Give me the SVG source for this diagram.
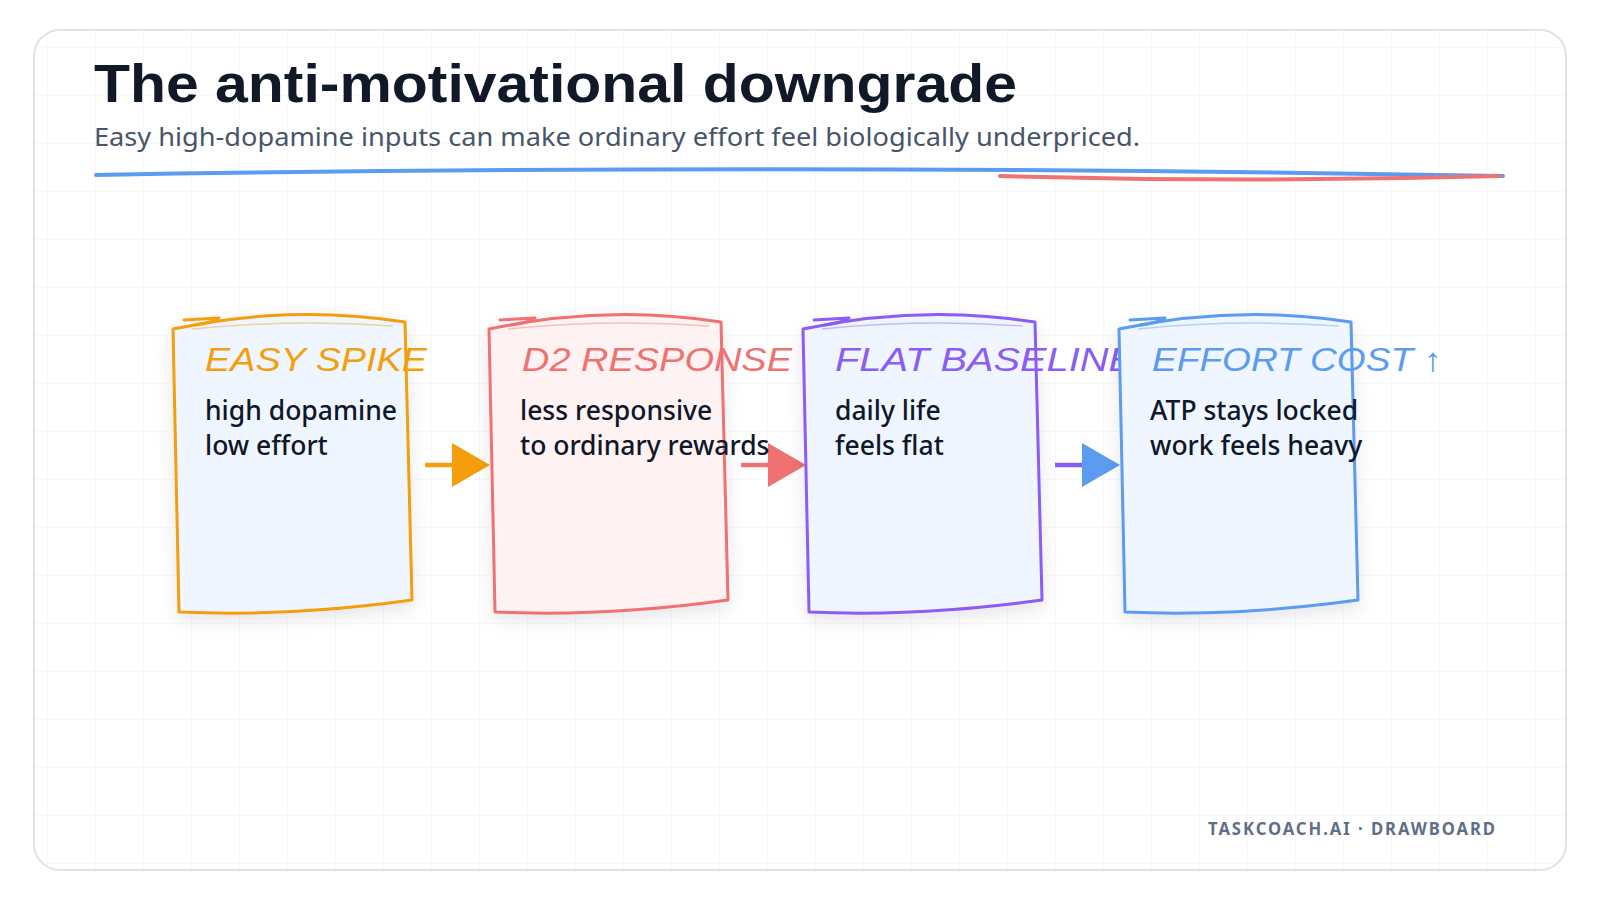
<svg xmlns="http://www.w3.org/2000/svg" width="1600" height="900" viewBox="0 0 1600 900">
<defs>
<style>
.title{font-family:"Liberation Sans",Arial,sans-serif;font-weight:700;font-size:54px;fill:#111827}
.sub{font-family:"Noto Sans","Open Sans",sans-serif;font-size:26px;fill:#475569}
.ctitle{font-family:"Liberation Sans",Arial,sans-serif;font-style:italic;font-size:33px}
.body{font-family:"Noto Sans","Open Sans",sans-serif;font-size:26.5px;font-weight:500;fill:#0f172a}
.foot{font-family:"Noto Sans","Open Sans",sans-serif;font-weight:700;font-size:17px;fill:#5f6f86;letter-spacing:2px}
.card{stroke-width:3;stroke-linejoin:round}
.inner{fill:none;stroke-width:1.5;opacity:0.4}
.tick{fill:none;stroke-width:3;stroke-linecap:round;stroke-linejoin:round}
</style>
<pattern id="grid" x="0" y="0" width="48" height="48" patternUnits="userSpaceOnUse">
<path d="M48,0 V48 M0,48 H48" fill="none" stroke="#eef1f5" stroke-width="1"/>
</pattern>
<clipPath id="cardclip"><rect x="34" y="30" width="1532" height="840" rx="26"/></clipPath>
<filter id="shadow" x="-20%" y="-20%" width="140%" height="140%">
<feDropShadow dx="0" dy="6" stdDeviation="9" flood-color="#0f172a" flood-opacity="0.10"/>
</filter>
<path id="cardshape" d="M173,329 Q290,304 405,322 L412,600 Q290,617 179,612 Z"/>
<path id="innerline" d="M192,329 Q292,319 393,326"/>
<path id="tickline" d="M184,320 L219,318 Q212,323 195,325"/>
</defs>

<rect x="34" y="30" width="1532" height="840" rx="26" fill="#ffffff"/>
<rect x="34" y="30" width="1532" height="840" fill="url(#grid)" clip-path="url(#cardclip)"/>
<rect x="34" y="30" width="1532" height="840" rx="26" fill="none" stroke="#dde1e8" stroke-width="2"/>

<g id="header">
<text class="title" x="94" y="102" textLength="923" lengthAdjust="spacingAndGlyphs">The anti-motivational downgrade</text>
<text class="sub" x="94" y="146" textLength="1046" lengthAdjust="spacingAndGlyphs">Easy high-dopamine inputs can make ordinary effort feel biologically underpriced.</text>
<path d="M96,175 Q800,163 1503,176" fill="none" stroke="#5b9bf0" stroke-width="4" stroke-linecap="round"/>
<path d="M1000,176 Q1250,183 1500,176" fill="none" stroke="#f07373" stroke-width="4" stroke-linecap="round"/>
</g>

<g id="connectors">
<g id="arrow1">
<line x1="425" y1="465" x2="454" y2="465" stroke="#f59e0b" stroke-width="4.5"/>
<polygon points="452,443 490,465 452,487" fill="#f59e0b"/>
</g>
<g id="arrow2">
<line x1="741" y1="465" x2="770" y2="465" stroke="#f07171" stroke-width="4.5"/>
<polygon points="768,443 806,465 768,487" fill="#f07171"/>
</g>
<g id="arrow3">
<line x1="1055" y1="465" x2="1084" y2="465" stroke="#8b5cf6" stroke-width="4.5"/>
<polygon points="1082,443 1120,465 1082,487" fill="#5b9bf0"/>
</g>
</g>

<g id="node-easy-spike">
<use href="#cardshape" class="card" fill="#eff6ff" stroke="#f59e0b" filter="url(#shadow)"/>
<use href="#innerline" class="inner" stroke="#f59e0b"/>
<use href="#tickline" class="tick" stroke="#f59e0b"/>
<text class="ctitle" x="205" y="371" fill="#f59e0b" textLength="222" lengthAdjust="spacingAndGlyphs">EASY SPIKE</text>
<text class="body" x="205" y="420">high dopamine</text>
<text class="body" x="205" y="455">low effort</text>
</g>

<g id="node-d2-response" transform="translate(316,0)">
<use href="#cardshape" class="card" fill="#fef2f2" stroke="#f07171" filter="url(#shadow)"/>
<use href="#innerline" class="inner" stroke="#f07171"/>
<use href="#tickline" class="tick" stroke="#f07171"/>
<text class="ctitle" x="206" y="371" fill="#f07171" textLength="270" lengthAdjust="spacingAndGlyphs">D2 RESPONSE</text>
<text class="body" x="204" y="420">less responsive</text>
<text class="body" x="204" y="455">to ordinary rewards</text>
</g>

<g id="node-flat-baseline" transform="translate(630,0)">
<use href="#cardshape" class="card" fill="#eff6ff" stroke="#8b5cf6" filter="url(#shadow)"/>
<use href="#innerline" class="inner" stroke="#8b5cf6"/>
<use href="#tickline" class="tick" stroke="#8b5cf6"/>
<text class="ctitle" x="205" y="371" fill="#8b5cf6" textLength="300" lengthAdjust="spacingAndGlyphs">FLAT BASELINE</text>
<text class="body" x="205" y="420">daily life</text>
<text class="body" x="205" y="455">feels flat</text>
</g>

<g id="node-effort-cost" transform="translate(946,0)">
<use href="#cardshape" class="card" fill="#eff6ff" stroke="#5b9bf0" filter="url(#shadow)"/>
<use href="#innerline" class="inner" stroke="#5b9bf0"/>
<use href="#tickline" class="tick" stroke="#5b9bf0"/>
<text class="ctitle" x="206" y="371" fill="#5b9bf0" textLength="290" lengthAdjust="spacingAndGlyphs">EFFORT COST ↑</text>
<text class="body" x="204" y="420">ATP stays locked</text>
<text class="body" x="204" y="455">work feels heavy</text>
</g>

<text class="foot" x="1208" y="835" textLength="289" lengthAdjust="spacingAndGlyphs">TASKCOACH.AI · DRAWBOARD</text>
</svg>
